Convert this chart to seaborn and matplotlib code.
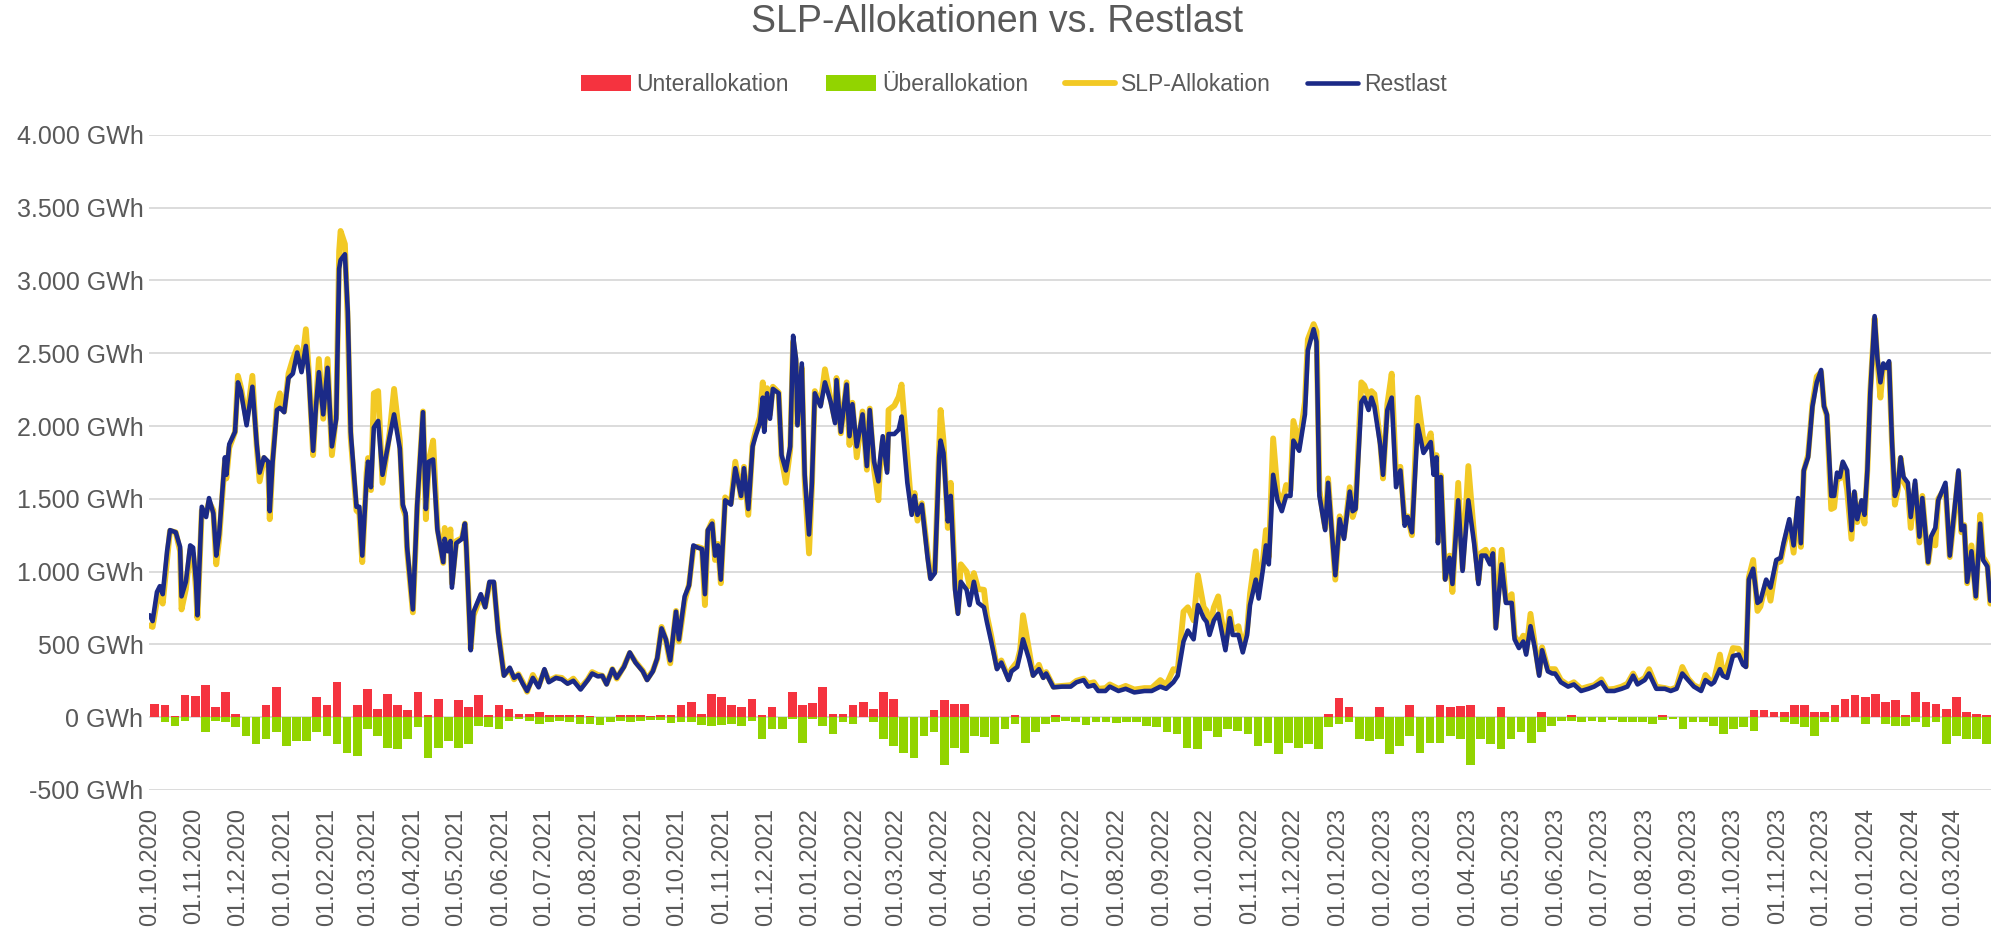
import numpy as np
import pandas as pd
import matplotlib
matplotlib.use("Agg")
import matplotlib.pyplot as plt
import matplotlib.dates as mdates
from matplotlib.ticker import FuncFormatter
import seaborn as sns

# Tage seit 01.10.2020 und Tageswerte in GWh
tag = [0, 2, 5, 7, 9, 12, 14, 18, 21, 22, 25, 28, 30, 32, 33, 36, 39, 41, 44, 46,
       48, 52, 53, 55, 59, 61, 63, 67, 71, 74, 76, 79, 82, 83, 85, 88, 90, 93, 96, 99,
       102, 105, 108, 110, 113, 115, 117, 120, 123, 126, 129, 131, 132, 135, 137, 139, 143, 145, 147, 150,
       151, 153, 155, 158,
       161, 166, 169, 173, 175, 177, 178, 182, 185, 189, 191, 193, 196, 199, 203, 204, 206, 208, 209, 212,
       216, 218, 219, 222, 224, 229, 232, 235, 238, 241, 245, 249, 252, 255, 258, 261, 265, 269, 273, 276,
       281, 285, 289, 293, 298, 303, 306, 310, 313, 316,
       320, 323, 328, 332, 336, 341, 344, 348, 351, 354, 357, 360, 364, 366, 370, 373, 376, 379, 382, 384,
       386, 389, 391, 393, 395, 398, 402, 405, 409, 411, 414, 417, 419, 422, 424, 425, 427, 429, 431, 435,
       437, 440, 443, 445, 447, 448, 451, 453, 456, 458, 460, 464, 467, 471, 474, 475, 478, 482, 484,
       486, 489, 493, 496, 498, 501, 504, 505, 507, 510, 511, 515, 518, 520, 524, 527, 529, 531, 534, 538,
       540, 543, 546, 547, 549, 552, 554, 557, 559, 561, 565, 567, 570, 573, 577, 579, 582, 586, 589, 594,
       596, 600, 602, 604, 608, 611, 615, 618, 620, 625, 631, 637, 641, 646,
       649, 653, 656, 661, 664, 670, 675, 681, 688, 693, 699, 703, 708, 711, 715, 718, 722, 725, 729, 731,
       733, 736, 739, 744, 747, 749, 753, 756, 759, 761, 765, 767, 770, 772, 774, 777, 780, 783, 786, 789,
       791, 795, 799, 801, 805,
       807, 809, 812, 813, 815, 817, 820, 823, 826, 830, 832, 834, 838, 840, 843, 845, 847, 851, 853, 856,
       859, 862, 865, 868, 870, 873, 877, 881, 883, 886, 888, 890, 891, 893, 896, 899, 901, 905, 908, 912,
       916, 919, 921, 924, 927, 929, 931, 935, 938, 942, 944, 947, 950, 952, 955, 958, 961, 963, 967, 970,
       972, 976, 981, 985, 990, 995, 999, 1004, 1008, 1013, 1018, 1022, 1026, 1029, 1034, 1037, 1042, 1048, 1052, 1056,
       1060, 1064, 1068, 1073, 1076, 1080, 1082, 1086, 1088, 1091, 1095, 1099, 1102, 1104, 1106, 1109, 1112,
       1114, 1118, 1121, 1125, 1128, 1130, 1134, 1137, 1140, 1142, 1144, 1147, 1150, 1153, 1156, 1158, 1160, 1163, 1165, 1167,
       1169, 1171, 1174, 1177, 1179, 1181, 1184, 1186, 1188, 1190, 1193, 1195, 1197, 1199, 1201, 1203, 1205, 1207, 1209, 1211,
       1213, 1216, 1218, 1221, 1224, 1226, 1230, 1232, 1235, 1237, 1242, 1245, 1248, 1251, 1253, 1255, 1257, 1260, 1263, 1266,
       1268, 1271, 1273]

restlast = [700, 660, 860, 900, 845, 1140, 1285, 1270, 1170, 830, 930, 1180, 1165, 930, 700, 1445, 1375, 1505, 1400, 1110,
            1255, 1785, 1665, 1875, 1960, 2300, 2240, 2005, 2270, 1875, 1680, 1785, 1755, 1415, 1755, 2110, 2125, 2095, 2330, 2360,
            2505, 2370, 2550, 2345, 1830, 2135, 2370, 2080, 2400, 1860, 2050, 3080, 3140, 3180, 2785, 1960, 1445, 1445, 1110, 1640,
            1755, 1580, 1990, 2035,
            1665, 1930, 2080, 1845, 1460, 1400, 1170, 740, 1460, 2095, 1430, 1755, 1770, 1285, 1065, 1225, 1140, 1210, 890, 1195,
            1225, 1330, 1165, 460, 725, 845, 755, 930, 930, 580, 285, 340, 270, 290, 230, 180, 270, 205, 330, 240,
            270, 260, 230, 250, 190, 255, 300, 280, 285, 225,
            330, 270, 345, 445, 375, 315, 255, 315, 405, 610, 535, 390, 725, 535, 830, 905, 1180, 1165, 1155, 845,
            1285, 1330, 1110, 1180, 945, 1490, 1460, 1710, 1520, 1710, 1430, 1860, 1930, 2020, 2195, 1960, 2225, 2050, 2255, 2225,
            1800, 1695, 1860, 2620, 2460, 2005, 2430, 1665, 1255, 1610, 2225, 2135, 2300, 2165, 2020, 2315, 1960, 2285, 1930,
            2150, 1860, 2080, 1725, 2110, 1755, 1620, 1755, 1930, 1680, 1945, 1945, 1975, 2065, 1610, 1390, 1520, 1390, 1460, 1095,
            950, 990, 1785, 1900, 1815, 1345, 1520, 875, 710, 930, 875, 770, 930, 785, 755, 655, 520, 330, 375, 255,
            315, 345, 430, 535, 405, 285, 330, 270, 300, 205, 210, 210, 240, 255,
            210, 220, 180, 180, 210, 180, 195, 170, 180, 180, 210, 195, 240, 285, 520, 595, 535, 770, 680, 655,
            565, 665, 710, 460, 680, 565, 565, 445, 565, 770, 945, 815, 1020, 1180, 1050, 1665, 1490, 1415, 1520, 1520,
            1900, 1830, 2080, 2520, 2665,
            2580, 1520, 1345, 1285, 1610, 1345, 975, 1360, 1225, 1550, 1415, 1430, 2165, 2195, 2110, 2195, 2135, 1875, 1665, 2110,
            2195, 1580, 1695, 1315, 1375, 1270, 2005, 1815, 1845, 1890, 1665, 1785, 1195, 1650, 945, 1095, 915, 1490, 1005, 1490,
            1195, 915, 1110, 1110, 1050, 1125, 610, 1050, 785, 785, 535, 475, 520, 430, 625, 475, 285, 460, 315, 300,
            300, 240, 210, 225, 180, 195, 210, 240, 180, 180, 195, 210, 285, 225, 255, 300, 195, 195, 180, 195,
            300, 255, 210, 180, 255, 225, 240, 330, 285, 270, 420, 430, 360, 345, 945, 1020, 785,
            800, 945, 890, 1080, 1095, 1195, 1360, 1180, 1505, 1195, 1695, 1785, 2135, 2300, 2385, 2135, 2080, 1520, 1520, 1680,
            1650, 1755, 1695, 1285, 1550, 1360, 1490, 1390, 1695, 2225, 2755, 2460, 2300, 2430, 2400, 2445, 1900, 1520, 1580, 1785,
            1650, 1610, 1375, 1625, 1240, 1505, 1065, 1240, 1300, 1490, 1610, 1110, 1400, 1695, 1285, 1315, 930, 1140, 830, 1330,
            1080, 1035, 800]

slp = [630, 620, 800, 850, 780, 1080, 1280, 1270, 1140, 740, 880, 1150, 1120, 880, 680, 1420, 1400, 1480, 1420, 1050,
       1220, 1760, 1640, 1850, 1960, 2345, 2270, 2040, 2345, 1860, 1620, 1780, 1720, 1360, 1760, 2150, 2225, 2100, 2360, 2460,
       2540, 2400, 2665, 2380, 1800, 2150, 2460, 2050, 2460, 1800, 2080, 3200, 3340, 3250, 2700, 1920, 1420, 1400, 1065, 1680,
       1780, 1560, 2225, 2240,
       1610, 1960, 2255, 1900, 1440, 1380, 1150, 720, 1440, 2100, 1360, 1760, 1900, 1300, 1060, 1300, 1160, 1290, 920, 1210,
       1230, 1330, 1170, 470, 700, 830, 760, 920, 920, 600, 290, 330, 260, 295, 240, 175, 290, 215, 320, 250,
       275, 270, 235, 265, 200, 260, 310, 290, 285, 230,
       330, 265, 350, 440, 380, 320, 260, 320, 400, 620, 530, 370, 730, 520, 800, 910, 1160, 1170, 1160, 770,
       1280, 1345, 1080, 1190, 920, 1510, 1470, 1755, 1510, 1720, 1390, 1880, 1960, 2060, 2300, 1990, 2260, 2080, 2270, 2230,
       1780, 1610, 1840, 2580, 2430, 2010, 2400, 1620, 1125, 1580, 2240, 2150, 2390, 2180, 2040, 2330, 1950, 2300, 1870,
       2160, 1785, 2100, 1700, 2120, 1700, 1490, 1700, 1900, 1700, 2110, 2140, 2200, 2285, 1785, 1420, 1540, 1350, 1470, 1130,
       960, 1000, 1850, 2110, 1900, 1300, 1610, 920, 720, 1050, 1000, 900, 990, 880, 875, 700, 560, 340, 390, 265,
       330, 380, 460, 700, 470, 290, 360, 275, 310, 210, 215, 220, 250, 265,
       230, 240, 195, 200, 225, 195, 215, 190, 200, 200, 255, 220, 330, 320, 725, 755, 665, 975, 755, 730,
       610, 755, 830, 490, 725, 600, 625, 470, 600, 845, 1140, 875, 1080, 1285, 1100, 1915, 1550, 1460, 1595, 1560,
       2035, 1875, 2165, 2595, 2700,
       2650, 1560, 1360, 1300, 1640, 1360, 945, 1380, 1240, 1580, 1375, 1440, 2300, 2280, 2200, 2240, 2220, 1900, 1640, 2150,
       2360, 1660, 1720, 1330, 1380, 1250, 2195, 1900, 1870, 1950, 1720, 1800, 1210, 1660, 950, 1110, 860, 1610, 1020, 1725,
       1250, 940, 1130, 1150, 1080, 1150, 620, 1150, 800, 845, 560, 500, 560, 450, 710, 500, 300, 480, 330, 330,
       330, 255, 220, 240, 195, 210, 220, 260, 190, 195, 210, 230, 300, 240, 270, 330, 210, 200, 190, 205,
       345, 265, 220, 195, 290, 240, 260, 430, 300, 345, 475, 470, 410, 350, 960, 1080, 730,
       760, 930, 800, 1060, 1070, 1170, 1330, 1130, 1480, 1170, 1690, 1800, 2150, 2340, 2370, 2140, 2070, 1430, 1440, 1640,
       1640, 1740, 1560, 1225, 1540, 1340, 1480, 1330, 1700, 2240, 2740, 2440, 2195, 2420, 2400, 2430, 1880, 1460, 1560, 1780,
       1620, 1560, 1300, 1600, 1200, 1520, 1060, 1200, 1180, 1500, 1580, 1100, 1380, 1680, 1270, 1320, 920, 1180, 820, 1390,
       1100, 1050, 780]

# Wochenwerte der Abweichungen in GWh (Woche 0 beginnt am 01.10.2020)
unter = [93, 81, 10, 150, 145, 220, 70, 174, 23, 0,
         0, 81, 209, 0, 0, 0, 139, 81, 244, 0,
         81, 197, 58, 162, 81, 46, 174, 12, 128, 0,
         116, 70, 151, 12, 81, 58, 23, 23, 35, 16,
         16, 16, 12, 7, 0, 0, 16, 12, 12, 7,
         18, 16, 81, 104, 23, 162, 139, 81, 70, 128,
         12, 70, 0, 174, 81, 100, 209, 23, 23, 81,
         104, 58, 174, 128, 0, 0, 0, 46, 116, 93,
         93, 0, 0, 0, 0, 12, 0, 0, 0, 12,
         0, 0, 0, 0, 0, 0, 0, 0, 0, 0,
         0, 0, 0, 0, 0, 0, 0, 0, 0, 0,
         0, 0, 0, 0, 0, 0, 20, 132, 70, 0,
         0, 70, 0, 0, 81, 0, 0, 81, 70, 74,
         81, 0, 0, 70, 0, 0, 0, 35, 0, 0,
         12, 0, 0, 0, 0, 0, 0, 0, 0, 12,
         0, 0, 0, 0, 0, 0, 0, 0, 46, 46,
         35, 35, 81, 81, 35, 35, 81, 128, 151, 139,
         162, 104, 116, 12, 174, 104, 93, 58, 139, 35,
         23, 12]

ueber = [0, -35, -58, -23, 0, -104, -23, -35, -70, -128,
         -186, -151, -104, -197, -162, -162, -104, -128, -186, -244,
         -267, -81, -128, -209, -220, -151, -70, -278, -209, -162,
         -209, -186, -58, -70, -81, -23, -12, -23, -46, -35,
         -23, -30, -46, -46, -53, -35, -23, -30, -23, -16,
         -16, -40, -35, -30, -53, -58, -53, -46, -58, -23,
         -151, -81, -81, -12, -174, -12, -58, -116, -35, -46,
         0, -35, -151, -197, -244, -278, -128, -104, -325, -209,
         -244, -128, -139, -186, -81, -46, -174, -104, -46, -35,
         -23, -35, -53, -30, -35, -40, -35, -35, -58, -70,
         -104, -116, -209, -220, -93, -139, -81, -93, -116, -197,
         -174, -255, -174, -209, -186, -220, -70, -46, -35, -151,
         -162, -151, -255, -197, -128, -244, -174, -174, -128, -151,
         -325, -151, -186, -220, -151, -104, -174, -104, -58, -23,
         -23, -30, -23, -30, -16, -35, -35, -35, -46, -16,
         -12, -81, -35, -30, -58, -116, -81, -70, -93, 0,
         0, -30, -46, -70, -128, -35, -35, 0, 0, -46,
         0, -46, -58, -58, -35, -70, -35, -186, -128, -151,
         -151, -186]

assert len(tag) == len(restlast) == len(slp)
assert len(unter) == len(ueber)

start = pd.Timestamp("2020-10-01")
df = pd.DataFrame({"Datum": start + pd.to_timedelta(tag, unit="D"),
                   "Restlast": restlast,
                   "SLP-Allokation": slp})
wochen = start + pd.to_timedelta(np.arange(len(unter)) * 7 + 3.5, unit="D")

grau = "#595959"
sns.set_theme(style="white")
plt.rcParams["font.family"] = ["Liberation Sans", "DejaVu Sans"]

fig = plt.figure(figsize=(19.95, 9.34), dpi=100)
ax = fig.add_axes([149 / 1995, 0.1542, (1991 - 149) / 1995, 0.7014])

ax.bar(wochen, unter, width=6, color="#F5333F", linewidth=0, zorder=2, label="Unterallokation")
ax.bar(wochen, ueber, width=6, color="#92D400", linewidth=0, zorder=2, label="Überallokation")
sns.lineplot(data=df, x="Datum", y="SLP-Allokation", ax=ax, color="#F2C925", linewidth=4.2,
             zorder=3, label="SLP-Allokation")
sns.lineplot(data=df, x="Datum", y="Restlast", ax=ax, color="#1B2A87", linewidth=3.3,
             zorder=4, label="Restlast")

ax.set_ylim(-500, 4000)
ax.set_yticks(np.arange(-500, 4001, 500))
ax.yaxis.set_major_formatter(FuncFormatter(lambda v, p: f"{v:,.0f}".replace(",", ".") + " GWh"))
ax.set_xlim(start - pd.Timedelta(days=0.5), start + pd.Timedelta(days=tag[-1] + 0.5))
ax.set_xticks(pd.date_range("2020-10-01", "2024-03-01", freq="MS"))
ax.xaxis.set_major_formatter(mdates.DateFormatter("%d.%m.%Y"))
ax.set_xlabel("")
ax.set_ylabel("")

ax.yaxis.grid(True, color="#D9D9D9", linewidth=1.3, zorder=0)
ax.xaxis.grid(False)
ax.set_axisbelow(True)
for s in ax.spines.values():
    s.set_visible(False)
ax.tick_params(axis="y", length=0, labelsize=18, labelcolor=grau, pad=4)
ax.tick_params(axis="x", length=0, labelsize=17, labelcolor=grau, pad=13, labelrotation=90)

fig.text(0.5, 0.976, "SLP-Allokationen vs. Restlast", ha="center", va="center",
         fontsize=27, color=grau)

handles, labels = ax.get_legend_handles_labels()
order = ["Unterallokation", "Überallokation", "SLP-Allokation", "Restlast"]
h = [handles[labels.index(n)] for n in order]
leg = fig.legend(h, order, loc="center", bbox_to_anchor=(0.508, 0.910), ncol=4, frameon=False,
                 fontsize=16.5, handlelength=2.2, handletextpad=0.25, columnspacing=1.6)
for t in leg.get_texts():
    t.set_color(grau)
if ax.get_legend() is not None:
    ax.get_legend().remove()

fig.savefig("out.png", dpi=100)
